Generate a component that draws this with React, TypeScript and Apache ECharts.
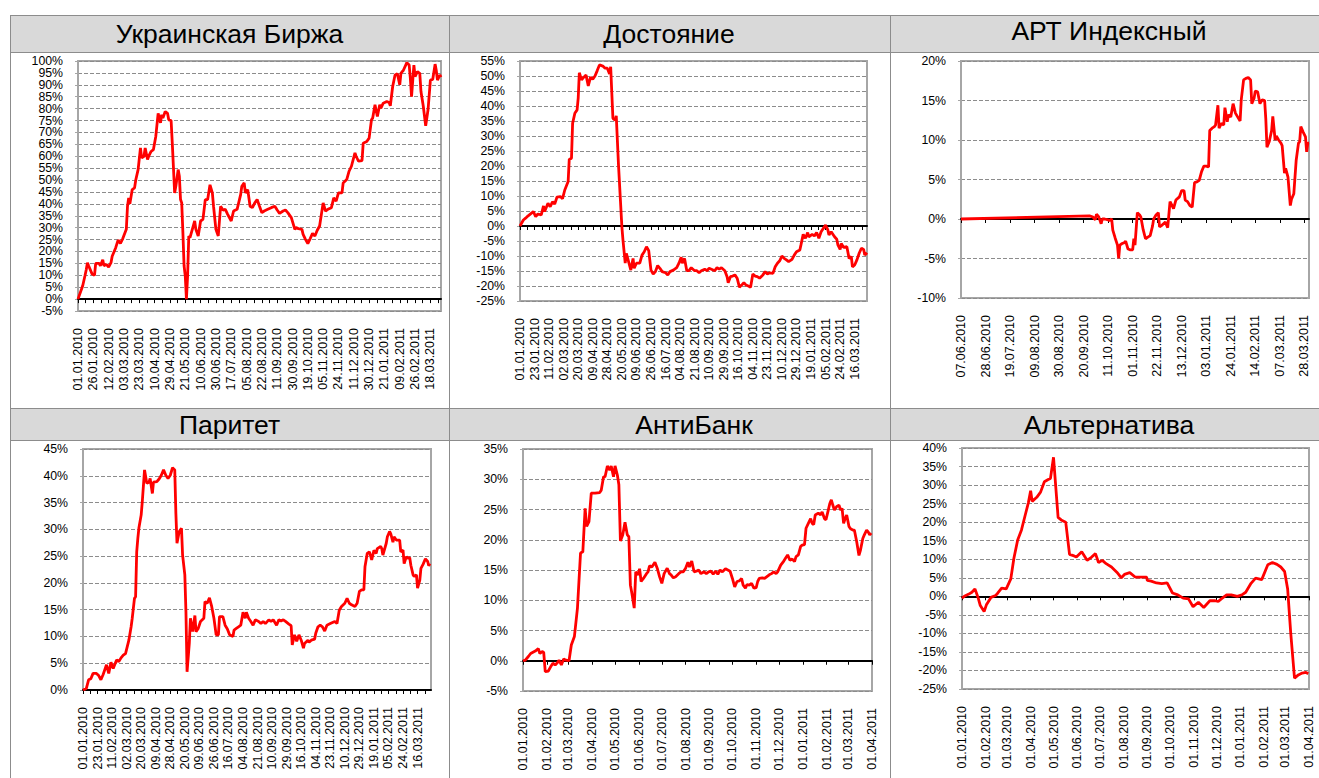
import React, { useEffect, useRef } from 'react';
import * as echarts from 'echarts';

const FONT = '"Liberation Sans", Arial, Helvetica, sans-serif';

// ---------- titles ----------
const titles = ['Украинская Биржа', 'Достояние', 'АРТ Индексный', 'Паритет', 'АнтиБанк', 'Альтернатива'];

// ---------- x-axis tick labels ----------
const ubLabels = ['01.01.2010', '26.01.2010', '12.02.2010', '03.03.2010', '23.03.2010', '10.04.2010', '29.04.2010', '21.05.2010', '10.06.2010', '30.06.2010', '17.07.2010', '05.08.2010', '22.08.2010', '11.09.2010', '30.09.2010', '19.10.2010', '05.11.2010', '24.11.2010', '11.12.2010', '30.12.2010', '21.01.2011', '09.02.2011', '26.02.2011', '18.03.2011'];
const dostLabels = ['01.01.2010', '23.01.2010', '11.02.2010', '02.03.2010', '20.03.2010', '09.04.2010', '28.04.2010', '20.05.2010', '09.06.2010', '26.06.2010', '16.07.2010', '04.08.2010', '21.08.2010', '10.09.2010', '29.09.2010', '16.10.2010', '04.11.2010', '23.11.2010', '10.12.2010', '29.12.2010', '19.01.2011', '05.02.2011', '24.02.2011', '16.03.2011'];
const artLabels = ['07.06.2010', '28.06.2010', '19.07.2010', '09.08.2010', '30.08.2010', '20.09.2010', '11.10.2010', '01.11.2010', '22.11.2010', '13.12.2010', '03.01.2011', '24.01.2011', '14.02.2011', '07.03.2011', '28.03.2011'];
const paritetLabels = ['01.01.2010', '23.01.2010', '11.02.2010', '02.03.2010', '20.03.2010', '09.04.2010', '28.04.2010', '20.05.2010', '09.06.2010', '26.06.2010', '16.07.2010', '04.08.2010', '21.08.2010', '10.09.2010', '29.09.2010', '16.10.2010', '04.11.2010', '23.11.2010', '10.12.2010', '29.12.2010', '19.01.2011', '05.02.2011', '24.02.2011', '16.03.2011'];
const monthLabels = ['01.01.2010', '01.02.2010', '01.03.2010', '01.04.2010', '01.05.2010', '01.06.2010', '01.07.2010', '01.08.2010', '01.09.2010', '01.10.2010', '01.11.2010', '01.12.2010', '01.01.2011', '01.02.2011', '01.03.2011', '01.04.2011'];

// ---------- series: [trading-day index, %] ----------
const ubData: [number, number][] = [[0,0],[4,5.6],[6,10],[7,12.3],[8,15.3],[9,14],[12,10.5],[14,10],[15,15],[18,15],[19,14],[21,16.5],[22,14],[24,14.6],[26,13.5],[28,15.3],[29,18],[32,21.6],[34,24.8],[36,23.4],[38,25.4],[41,29.3],[42,39],[43,42.5],[44,40],[46,46],[48,46.7],[49,50],[51,54.4],[53,63.5],[54,59.3],[56,60],[57,63.5],[59,58.6],[60,60],[62,62],[64,62.8],[66,68.3],[67,73.2],[68,78],[70,74],[71,77.4],[72,76],[74,78.8],[76,78],[77,75.3],[79,75],[80,65.5],[82,44.6],[83,47.4],[85,54.4],[86,51.6],[87,41.8],[88,40.4],[89,28],[90,14],[91,9.8],[92,0],[93,9.8],[94,26.5],[95,25.8],[97,29.3],[99,32.8],[100,29.3],[102,26.5],[104,32.8],[106,33.5],[108,41.8],[110,41.8],[112,48],[114,44.6],[115,39],[117,29.3],[119,26.5],[121,39],[123,37.4],[125,37.7],[127,35.6],[130,32.8],[132,37],[135,37.7],[138,43.9],[139,47.4],[141,48.8],[142,44.6],[144,46],[146,39],[148,38.4],[150,40.4],[152,41.8],[154,39],[156,36.3],[158,37],[161,37.7],[164,38.4],[167,39],[169,37.4],[171,36],[174,37],[176,37.4],[178,36.3],[181,34.2],[184,29.3],[185,30],[187,29.6],[190,29.3],[191,27.2],[193,25.1],[195,23.3],[197,25.4],[199,27.6],[201,26.5],[203,28.9],[205,30.7],[208,40.4],[210,37],[212,37.7],[215,38.4],[217,42.5],[219,41.1],[221,44.6],[224,44.6],[225,48.8],[228,50.2],[230,53.7],[232,55.8],[235,61.4],[236,60],[238,57.9],[241,58.2],[242,65.5],[245,66.2],[247,67.6],[249,75.3],[250,76],[252,81.6],[254,76.7],[256,81.6],[257,80.2],[259,82.3],[262,83],[264,82.6],[265,81.2],[267,89.3],[269,94.1],[271,94.6],[273,90],[274,94.8],[275,95.5],[276,96],[279,99.3],[281,98.3],[282,92.7],[283,85],[285,98.3],[286,93.4],[288,95.5],[290,94.8],[291,87.2],[293,80.9],[295,72.8],[297,79.5],[299,92],[301,92.3],[303,98.7],[304,96],[305,92],[307,94.1],[308,93.2]];

const dostData: [number, number][] = [[0,0],[3,2],[5,2.6],[7,3.3],[10,4.2],[12,4.8],[14,3.1],[16,4],[19,3.7],[21,6.7],[22,4.8],[25,7.6],[27,6.4],[29,8.1],[31,7.3],[33,9.6],[36,9.8],[38,9.1],[40,12],[43,14.8],[44,22.2],[46,22.6],[47,34.2],[49,37.6],[51,38.7],[52,42.6],[53,51.1],[55,48.7],[57,49.6],[59,50.3],[61,46.7],[63,49.6],[65,48.9],[67,50],[69,51.8],[71,53.7],[74,53.3],[76,52.6],[78,52.6],[80,50.7],[81,53.1],[83,35.9],[85,35.3],[86,36.7],[88,20.3],[91,-0.2],[92,-4.7],[94,-12.4],[95,-9.1],[97,-11.9],[99,-14.7],[101,-10.8],[102,-14.1],[104,-12.4],[107,-12.4],[109,-9.7],[111,-8.6],[113,-6.9],[115,-8.2],[117,-14.7],[119,-16],[121,-15.2],[123,-13.2],[125,-14.1],[127,-15.2],[130,-15.6],[132,-16.3],[134,-15.2],[137,-14.7],[140,-13.9],[142,-12.4],[144,-10.4],[145,-12.4],[147,-10.8],[149,-14.9],[151,-14.9],[153,-13.9],[156,-14.9],[158,-14.9],[160,-15.6],[162,-14.9],[165,-14.4],[167,-14.9],[169,-14.1],[171,-14.4],[174,-14.9],[176,-13.9],[178,-14.4],[180,-13.9],[183,-14.9],[185,-16.9],[186,-18.9],[188,-16.9],[190,-16.7],[192,-16.3],[194,-17.4],[196,-20.4],[198,-19.7],[200,-18.9],[202,-19.7],[204,-20],[206,-20.4],[208,-16],[210,-16.7],[212,-16.9],[214,-17.4],[217,-16.3],[219,-15.2],[221,-16],[223,-15.6],[226,-15.8],[228,-13.6],[230,-12.4],[232,-11.6],[234,-10],[236,-10.8],[238,-11.3],[240,-11.9],[243,-11.1],[245,-9.7],[247,-8.6],[250,-8],[251,-6.3],[253,-2.8],[255,-4.1],[257,-2.2],[258,-3.6],[261,-2.8],[263,-3.3],[265,-2.2],[267,-4.1],[269,-1.9],[271,-0.8],[273,0.3],[275,-1.3],[276,-3],[278,-1.9],[281,-3.6],[283,-4.4],[284,-6.3],[286,-7.8],[287,-5.8],[289,-7.1],[292,-6.9],[294,-10.8],[296,-10.2],[297,-13.6],[299,-13],[301,-11.3],[303,-9.1],[305,-7.4],[307,-7.8],[308,-9.7],[310,-8.9]];

// [calendar day since 07.06.2010, %]
const artData: [number, number][] = [[0,0],[110,0.4],[113,0.25],[115,-0.1],[116,0.6],[118,0.25],[120,-0.6],[121,0],[123,0],[126,-0.1],[127,-0.2],[129,0],[130,-1.4],[132,-2.4],[134,-3.3],[135,-5],[136,-3.3],[138,-3.1],[140,-3],[141,-2.8],[143,-3.8],[145,-3.9],[147,-3.9],[148,-2.5],[149,-3.3],[151,0.8],[153,0.5],[154,0.25],[156,-1.35],[158,-2.5],[160,-2.3],[162,-2.1],[164,-0.9],[165,0],[167,0.5],[169,0.8],[170,-1],[172,-0.8],[175,-0.4],[177,-1.1],[179,2.2],[180,1.9],[182,1.3],[184,2.4],[187,2.8],[189,3.6],[191,3.6],[192,2.4],[194,2.2],[196,1.7],[198,1.5],[200,4.6],[202,4.7],[204,4.9],[206,6],[208,6.7],[210,6.7],[212,6.6],[213,11.2],[215,11.5],[217,11.7],[218,11.9],[220,14.4],[221,11.5],[223,12.1],[225,11.9],[226,14.1],[228,12.3],[229,13.2],[231,12.9],[233,14.6],[235,13.4],[237,12.9],[239,12.4],[240,15.1],[242,17.6],[244,17.8],[246,17.9],[248,17.6],[249,14.6],[251,15.3],[252,16.2],[254,16.1],[256,14.6],[258,15.1],[260,15],[261,12.7],[262,9.1],[264,9.8],[266,11.2],[267,13],[269,10],[270,10.5],[272,10],[274,9.6],[275,9.3],[277,5.8],[278,6.4],[280,5.3],[282,1.7],[283,2.5],[285,3.2],[286,5.3],[287,7.4],[289,9.6],[290,9.8],[291,11.7],[293,11],[295,10.4],[296,8.5],[297,9.6],[298,9.6]];

const paritetData: [number, number][] = [[0,0],[3,0.3],[5,1.9],[7,2.1],[9,3.1],[12,3.1],[14,2.7],[16,1.9],[18,2.9],[21,4.7],[23,3.1],[25,5.2],[27,4],[30,5.6],[32,5.3],[34,6],[36,6.5],[38,6.8],[41,9.3],[43,11.8],[44,13.4],[46,17.1],[47,17.4],[48,25.8],[49,28.3],[50,30.3],[52,32.7],[53,35.2],[55,41.1],[57,38.6],[59,38.8],[60,39.5],[62,36.7],[63,38.8],[66,38.9],[68,39.4],[70,40.1],[72,41.1],[74,40.1],[76,39.5],[78,40.1],[80,41.5],[82,41.1],[83,33],[84,27.4],[86,29.6],[88,30.2],[89,25.2],[91,21.5],[92,14.6],[93,3.4],[95,8.7],[96,13.4],[98,10.9],[100,13.9],[101,10.9],[103,11.5],[105,12.8],[108,13.4],[109,16.5],[111,16.2],[113,17.2],[115,15.6],[117,13.4],[119,10.3],[121,10.3],[122,13.7],[125,13.7],[127,12.1],[129,11.4],[131,10.3],[134,10],[135,11.2],[137,11.5],[139,11.8],[141,12.1],[143,14.5],[145,13.4],[146,14.5],[148,13.4],[150,12.8],[152,12.1],[154,13.1],[157,12.8],[159,12.4],[161,12.8],[163,12.4],[166,13.1],[168,12.8],[170,13.1],[173,12.1],[175,13.1],[177,12.9],[179,13.1],[181,12.8],[184,12.3],[186,12],[187,8.4],[189,10.3],[191,9.1],[193,10.3],[195,9.3],[197,7.8],[198,8.7],[201,9.3],[202,8.9],[204,9.3],[207,9.5],[208,10.6],[210,11.8],[212,12.1],[214,11.8],[216,11],[218,12.1],[221,12.4],[223,12.6],[225,12.8],[227,12.4],[229,14.9],[231,15.6],[234,16.2],[236,17.1],[238,16.2],[240,15.9],[243,15.6],[245,16.2],[247,18.4],[249,18.7],[251,18.7],[252,23],[254,25.5],[256,25.8],[258,24.3],[260,26.1],[262,25.5],[263,26.4],[266,26.8],[267,26.4],[268,25.2],[271,27.4],[272,28.6],[274,29.6],[275,29.2],[277,27.6],[278,28.6],[280,28],[283,28],[284,25.8],[286,26.1],[287,23.6],[289,24.9],[290,24.6],[292,24.7],[293,23.3],[295,21.5],[296,21.2],[298,21.5],[299,19],[301,20.5],[302,22.7],[304,23.5],[306,24.5],[308,24],[309,23.2],[310,23.6]];

// [calendar day since 01.01.2010, %]
const antiData: [number, number][] = [[0,0],[3,0.1],[7,0.7],[10,1.2],[13,1.4],[16,1.6],[20,2],[22,1.2],[25,1.5],[27,1.4],[29,-1.8],[33,-1.7],[36,-1],[39,-0.4],[42,-0.7],[45,-0.3],[47,0.1],[50,-0.7],[53,0.3],[56,0.1],[60,0],[63,2.6],[67,4],[71,8.7],[75,17.8],[78,18],[81,25.2],[83,22.2],[86,23],[89,27.7],[94,27.7],[100,27.8],[102,28.2],[105,30.4],[107,30.4],[110,32.2],[113,31.5],[115,32.2],[118,30.4],[120,32.2],[123,30.7],[125,29.1],[127,19.8],[130,20.8],[133,22.9],[136,20.8],[138,20.5],[140,12.5],[142,11.1],[145,8.7],[147,14.7],[150,14.2],[152,15.2],[154,13.1],[157,13.6],[161,14.4],[163,14.7],[165,15.7],[168,15.5],[172,16.3],[175,15.3],[178,13.9],[181,12.8],[184,14.4],[188,15.3],[191,14.4],[193,14.2],[196,13.7],[199,13.9],[203,14.4],[206,14.7],[209,14.7],[212,15.3],[215,16.3],[217,15.5],[220,16.5],[223,14.7],[226,14.8],[229,15],[232,14.4],[236,14.7],[239,14.4],[242,14.7],[245,14.8],[248,14.3],[251,14.8],[254,14.3],[257,15],[260,14.7],[264,15.2],[267,15],[270,14.8],[273,13.6],[276,12.2],[279,13.1],[282,13.2],[285,13.6],[287,12.5],[290,12],[292,12.6],[295,12.5],[298,12.8],[301,12],[304,12.1],[306,13.1],[308,13.6],[312,13.7],[315,13.6],[318,13.9],[321,14.2],[324,14.4],[327,14.7],[330,14.4],[332,14.7],[336,15.8],[339,16.3],[342,16.9],[345,17.5],[348,16.6],[351,16.8],[354,16.4],[356,17.2],[359,17.5],[362,18.9],[364,19.1],[367,19.2],[369,21.9],[372,22.7],[375,23.5],[377,22.7],[379,22.5],[381,24.1],[385,24.4],[388,24.1],[390,24.6],[393,23.5],[395,23.3],[398,24.9],[400,26],[402,26.6],[404,25.7],[406,24.9],[409,25.5],[412,25.7],[414,24.9],[416,25.2],[418,22.7],[420,23.5],[422,24.1],[425,22.2],[427,21.8],[430,21.6],[432,21.6],[435,19.7],[438,17.4],[440,18.3],[443,20.2],[445,20.8],[448,21.6],[450,21.3],[452,20.8],[454,21.1]];

const altData: [number, number][] = [[0,-0.5],[3,0],[9,0.6],[13,1.1],[17,2],[21,-0.3],[24,-2.5],[29,-4.1],[32,-2.3],[38,-0.3],[44,0.2],[47,0.9],[52,2.2],[58,2],[64,4.7],[68,10.2],[73,15.2],[78,17.9],[83,22],[87,25.2],[90,28.5],[92,25.6],[98,26.7],[103,28.1],[108,30.9],[113,31.5],[116,31.8],[120,37.5],[126,21.3],[130,20.6],[136,20],[141,11.3],[147,10.9],[150,10.6],[157,12],[164,9.7],[170,10.6],[175,11.5],[179,9.1],[184,9.7],[189,8.8],[196,7.9],[203,6.5],[209,5],[213,5.9],[220,6.4],[227,5.2],[233,5.2],[242,5.2],[243,4.3],[248,4.1],[255,3.6],[262,3.4],[269,3.6],[276,0.9],[283,0.4],[290,-0.5],[297,-0.7],[303,-2.8],[310,-1.6],[317,-3],[325,-1.2],[332,-1.2],[336,-1.4],[340,-0.7],[347,0.4],[353,0.4],[361,0],[367,0.4],[372,1.1],[379,3.5],[385,4.9],[393,4.5],[401,8.5],[407,9.1],[413,8.6],[418,7.9],[423,6.7],[427,2],[431,-9.8],[436,-22.1],[441,-21.2],[446,-20.7],[451,-20.5],[454,-20.9]];

// ---------- y ranges ----------
const yMins = [-5, -25, -10, 0, -5, -25];
const yMaxs = [100, 55, 20, 45, 35, 40];
const xMaxs = [308, 310, 298, 311, 455, 455];

// ---------- layout (px) ----------
const gridBoxes = [
  { left: 78, top: 61, width: 363, height: 250 },
  { left: 520, top: 61, width: 347, height: 240 },
  { left: 961, top: 61, width: 348, height: 237 },
  { left: 83, top: 449, width: 348, height: 241 },
  { left: 523, top: 449, width: 349, height: 242 },
  { left: 962, top: 448, width: 347, height: 241 },
];
const titlePos: [number, number][] = [[229.5, 34], [669, 34], [1109, 31], [229.5, 425], [694, 425], [1109, 425]];

const dayNum = (s: string) => {
  const [d, m, y] = s.split('.').map(Number);
  return Math.round(Date.UTC(y, m - 1, d) / 86400000);
};

const LABEL_STEP = 13;

function buildOption() {
  const panels = [
    { labels: ubLabels, data: ubData, byDate: false },
    { labels: dostLabels, data: dostData, byDate: false },
    { labels: artLabels, data: artData, byDate: true },
    { labels: paritetLabels, data: paritetData, byDate: false },
    { labels: monthLabels, data: antiData, byDate: true },
    { labels: monthLabels, data: altData, byDate: true },
  ];
  const grid: any[] = [];
  const xAxis: any[] = [];
  const yAxis: any[] = [];
  const series: any[] = [];

  panels.forEach((p, i) => {
    const xMax = xMaxs[i];
    const labelPos = p.byDate
      ? p.labels.map((l) => dayNum(l) - dayNum(p.labels[0]))
      : p.labels.map((_, k) => k * LABEL_STEP);
    let tickPos: number[] = labelPos;
    if (!p.byDate) {
      tickPos = [];
      for (let v = 0; v <= xMax; v += LABEL_STEP / 2) tickPos.push(v);
    }
    const names = new Map<number, string>();
    labelPos.forEach((v, k) => names.set(v, p.labels[k]));

    grid.push({
      ...gridBoxes[i],
      show: true,
      borderColor: '#a6a6a6',
      borderWidth: 2,
      backgroundColor: 'transparent',
    });
    xAxis.push({
      gridIndex: i,
      type: 'value',
      min: 0,
      max: xMax,
      position: 'bottom',
      axisLine: { show: false, onZero: false },
      axisTick: { show: false },
      splitLine: { show: false },
      axisLabel: {
        customValues: labelPos,
        rotate: 90,
        margin: 17,
        fontSize: 12.5,
        color: '#000',
        fontFamily: FONT,
        formatter: (v: number) => names.get(Math.round(v)) ?? '',
      },
    });
    xAxis.push({
      gridIndex: i,
      type: 'value',
      min: 0,
      max: xMax,
      position: 'bottom',
      z: 3,
      axisLine: { show: true, onZero: true, lineStyle: { color: '#000', width: 2 } },
      axisTick: { show: true, customValues: tickPos, length: 4, lineStyle: { color: '#000', width: 1 } },
      axisLabel: { show: false },
      splitLine: { show: false },
    });
    yAxis.push({
      gridIndex: i,
      type: 'value',
      min: yMins[i],
      max: yMaxs[i],
      interval: 5,
      axisLine: { show: true, onZero: false, lineStyle: { color: '#a6a6a6', width: 2 } },
      axisTick: { show: true, length: 3, lineStyle: { color: '#a6a6a6' } },
      splitLine: { show: true, lineStyle: { color: '#8c8c8c', type: [4, 2], width: 1 } },
      axisLabel: {
        formatter: '{value}%',
        fontSize: 12.3,
        color: '#000',
        fontFamily: FONT,
        margin: 15,
        showMinLabel: true,
        showMaxLabel: true,
      },
    });
    series.push({
      type: 'line',
      name: titles[i],
      xAxisIndex: 2 * i,
      yAxisIndex: i,
      data: p.data,
      showSymbol: false,
      symbol: 'none',
      silent: true,
      z: 5,
      lineStyle: { color: '#ff0000', width: 2.8 },
    });
  });

  const lineColor = '#8c8c8c';
  const hLines = [15.5, 52.5, 408.5, 440.5];
  const vLines = [10.5, 449.5, 890.5];
  const graphic: any[] = [
    { type: 'rect', shape: { x: 10, y: 15, width: 1320, height: 37 }, style: { fill: '#d9d9d9' }, silent: true, z: -10 },
    { type: 'rect', shape: { x: 10, y: 408, width: 1320, height: 32 }, style: { fill: '#d9d9d9' }, silent: true, z: -10 },
    ...hLines.map((y) => ({ type: 'line', shape: { x1: 10, y1: y, x2: 1330, y2: y }, style: { stroke: lineColor, lineWidth: 1 }, silent: true })),
    ...vLines.map((x) => ({ type: 'line', shape: { x1: x, y1: 15, x2: x, y2: 800 }, style: { stroke: lineColor, lineWidth: 1 }, silent: true })),
    ...titles.map((t, i) => ({
      type: 'text',
      x: titlePos[i][0],
      y: titlePos[i][1],
      silent: true,
      style: { text: t, fontSize: 26.5, fontFamily: FONT, fill: '#000', align: 'center', verticalAlign: 'middle' },
    })),
  ];

  return {
    animation: false,
    backgroundColor: '#fff',
    textStyle: { fontFamily: FONT },
    grid,
    xAxis,
    yAxis,
    series,
    graphic,
  };
}

export default function App() {
  const ref = useRef<HTMLDivElement>(null);
  useEffect(() => {
    if (!ref.current) return;
    const chart = echarts.init(ref.current, null, { renderer: 'svg' });
    chart.setOption(buildOption() as any);
    return () => chart.dispose();
  }, []);
  return (
    <div
      ref={ref}
      style={{ position: 'absolute', left: 0, top: 0, width: 1319, height: 778, background: '#fff' }}
    />
  );
}
